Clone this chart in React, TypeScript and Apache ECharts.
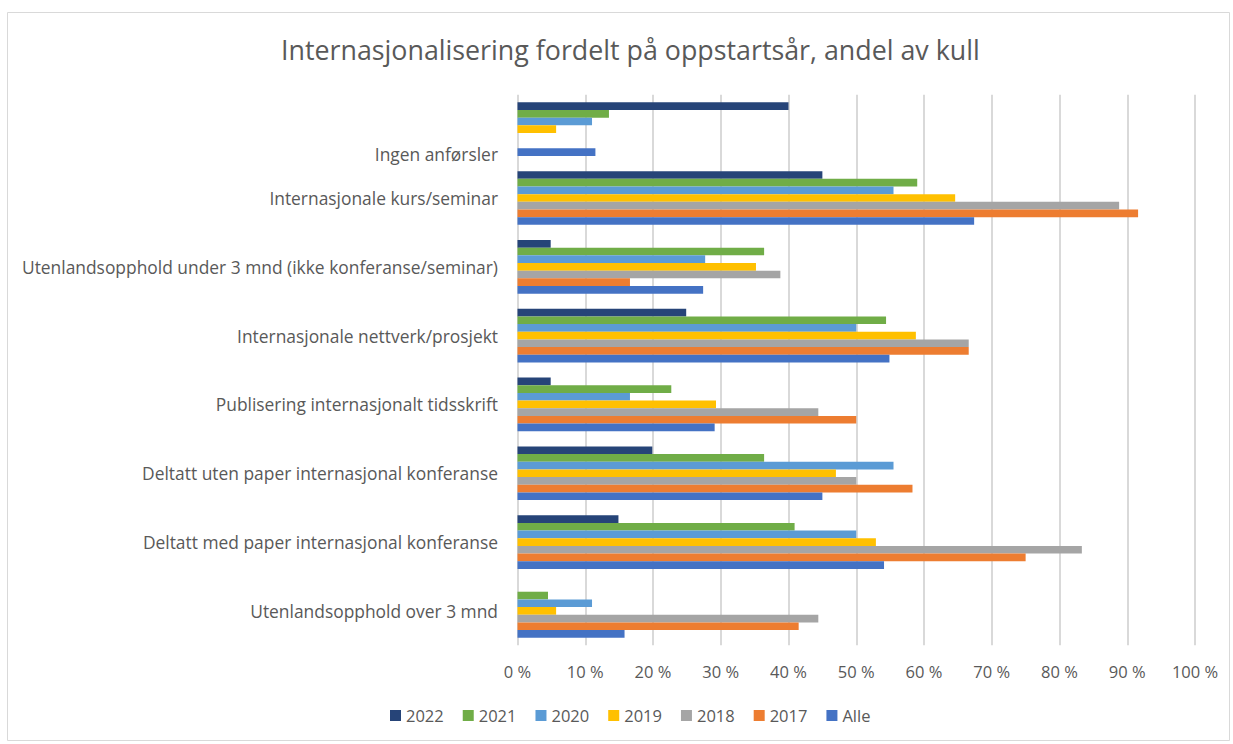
import React, { useEffect, useRef } from "react";
import * as echarts from "echarts";

const categories = [
  "Ingen anførsler",
  "Internasjonale kurs/seminar",
  "Utenlandsopphold under 3 mnd (ikke konferanse/seminar)",
  "Internasjonale nettverk/prosjekt",
  "Publisering internasjonalt tidsskrift",
  "Deltatt uten paper internasjonal konferanse",
  "Deltatt med paper internasjonal konferanse",
  "Utenlandsopphold over 3 mnd",
];

const seriesNames = ["2022", "2021", "2020", "2019", "2018", "2017", "Alle"];

const v2022 = [40.0, 45.0, 4.9, 24.9, 4.9, 19.9, 14.9, 0];
const v2021 = [13.5, 59.0, 36.4, 54.4, 22.7, 36.4, 40.9, 4.5];
const v2020 = [11.0, 55.5, 27.7, 50.0, 16.6, 55.5, 50.0, 11.0];
const v2019 = [5.7, 64.6, 35.2, 58.8, 29.3, 47.0, 52.9, 5.7];
const v2018 = [0, 88.8, 38.8, 66.6, 44.4, 50.0, 83.3, 44.4];
const v2017 = [0, 91.6, 16.6, 66.6, 50.0, 58.3, 75.0, 41.5];
const vAlle = [11.5, 67.4, 27.4, 54.9, 29.1, 45.0, 54.1, 15.8];

const seriesValues = [v2022, v2021, v2020, v2019, v2018, v2017, vAlle];
const colors = ["#264478", "#70AD47", "#5B9BD5", "#FFC000", "#A5A5A5", "#ED7D31", "#4472C4"];

const title = "Internasjonalisering fordelt på oppstartsår, andel av kull";
const FONT = "'Open Sans', 'Noto Sans', sans-serif";

export default function App() {
  const ref = useRef<HTMLDivElement>(null);
  useEffect(() => {
    if (!ref.current) return;
    const chart = echarts.init(ref.current, null, { renderer: "svg" });
    chart.setOption({
      animation: false,
      backgroundColor: "#ffffff",
      textStyle: { fontFamily: FONT },
      title: {
        text: title,
        left: 276,
        top: 31,
        textStyle: { fontFamily: FONT, fontSize: 26.8, fontWeight: "normal", color: "#595959" },
      },
      graphic: [
        {
          type: "rect",
          shape: { x: 7.5, y: 12.5, width: 1222, height: 728 },
          style: { fill: "none", stroke: "#d9d9d9", lineWidth: 1 },
          silent: true,
        },
      ],
      legend: {
        data: seriesNames,
        top: 702,
        left: 385,
        icon: "rect",
        itemWidth: 11,
        itemHeight: 11,
        itemGap: 19,
        textStyle: { fontFamily: FONT, fontSize: 16.5, color: "#595959" },
      },
      grid: { left: 517.5, right: 38, top: 94.75, bottom: 98.7, containLabel: false },
      xAxis: {
        type: "value",
        min: 0,
        max: 100,
        interval: 10,
        axisLine: { show: false },
        axisTick: { show: false },
        splitLine: { show: true, lineStyle: { color: "#d9d9d9", width: 2 } },
        axisLabel: {
          formatter: (v: number) => `${v} %`,
          fontFamily: FONT,
          fontSize: 16.5,
          color: "#595959",
          margin: 18,
        },
      },
      yAxis: {
        type: "category",
        data: categories,
        inverse: true,
        axisLine: { show: false },
        axisTick: { show: false },
        axisLabel: {
          fontFamily: FONT,
          fontSize: 17.4,
          color: "#595959",
          margin: 19.5,
          formatter: (v: string, i: number) => (i === 0 ? `{low|${v}}` : v),
          rich: {
            low: {
              fontFamily: FONT,
              fontSize: 17.4,
              color: "#595959",
              padding: [50, 0, 0, 0],
            },
          },
        },
      },
      series: seriesNames.map((name, i) => ({
        name,
        type: "bar",
        data: seriesValues[i],
        barGap: "0%",
        barCategoryGap: "22%",
        itemStyle: { color: colors[i] },
      })),
    });
    return () => chart.dispose();
  }, []);
  return (
    <div
      ref={ref}
      style={{ position: "fixed", left: 0, top: 0, width: 1233, height: 744 }}
    />
  );
}
